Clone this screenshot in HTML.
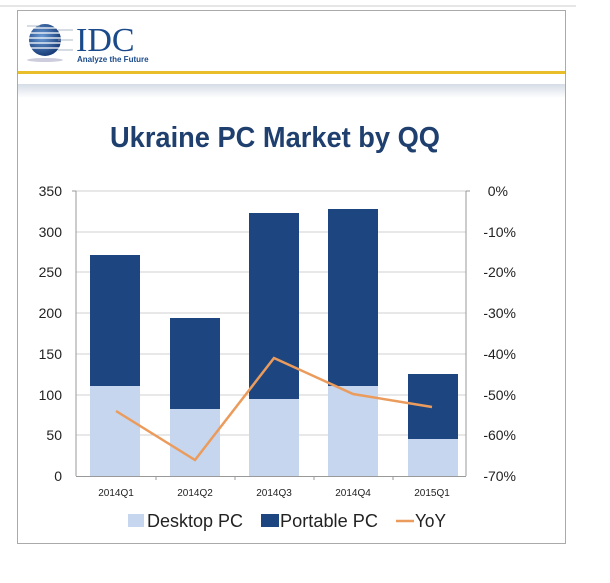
<!DOCTYPE html>
<html><head><style>
body{margin:0;background:#fff;width:610px;height:578px;overflow:hidden;font-family:"Liberation Sans",sans-serif}
</style></head><body>
<svg width="610" height="578" xmlns="http://www.w3.org/2000/svg">
<line x1="0" y1="6" x2="576" y2="6" stroke="#ccc" stroke-width="1"/>
<rect x="17.5" y="10.5" width="548" height="533" fill="#fff" stroke="#aaa"/>
<defs><linearGradient id="g" x1="0" y1="0" x2="0" y2="1"><stop offset="0" stop-color="#d6dde6"/><stop offset="1" stop-color="#fff"/></linearGradient>
<radialGradient id="b" cx="0.4" cy="0.4" r="0.6"><stop offset="0" stop-color="#6a9bd6"/><stop offset="1" stop-color="#1a3e7a"/></radialGradient></defs>
<rect x="18" y="84" width="547" height="14" fill="url(#g)"/>
<rect x="18" y="71" width="547" height="3" fill="#e8bf2a"/>
<circle cx="45" cy="40" r="16" fill="url(#b)"/>
<g stroke="#fff" stroke-width="1.2"><line x1="26" y1="28" x2="64" y2="28"/><line x1="26" y1="33" x2="64" y2="33"/><line x1="26" y1="38" x2="64" y2="38"/><line x1="26" y1="43" x2="64" y2="43"/><line x1="26" y1="48" x2="64" y2="48"/></g>
<g stroke="#9aa8bb" stroke-width="0.8"><line x1="27" y1="26" x2="40" y2="26"/><line x1="58" y1="30" x2="73" y2="30"/><line x1="58" y1="40" x2="73" y2="40"/><line x1="58" y1="50" x2="73" y2="50"/></g>
<ellipse cx="45" cy="60" rx="18" ry="2" fill="#ccd"/>
<text x="76" y="51" font-family="Liberation Serif,serif" font-size="34" fill="#1b4a8a">IDC</text>
<text x="77" y="62" font-size="8" font-weight="bold" fill="#1b4a8a">Analyze the Future</text>
<text x="110" y="147" textLength="330" lengthAdjust="spacingAndGlyphs" font-size="29" font-weight="bold" fill="#1f3f6e">Ukraine PC Market by QQ</text>
<g stroke="#d0d0d0" stroke-width="1">
<line x1="76" y1="191" x2="466" y2="191"/><line x1="76" y1="232" x2="466" y2="232"/><line x1="76" y1="272" x2="466" y2="272"/><line x1="76" y1="313" x2="466" y2="313"/><line x1="76" y1="354" x2="466" y2="354"/><line x1="76" y1="395" x2="466" y2="395"/><line x1="76" y1="435" x2="466" y2="435"/></g>
<g fill="#c5d6ee">
<rect x="90" y="386" width="50" height="90"/><rect x="170" y="409" width="50" height="67"/><rect x="249" y="399" width="50" height="77"/><rect x="328" y="386" width="50" height="90"/><rect x="408" y="439" width="50" height="37"/></g>
<g fill="#1d4680">
<rect x="90" y="255" width="50" height="131"/><rect x="170" y="318" width="50" height="91"/><rect x="249" y="213" width="50" height="186"/><rect x="328" y="209" width="50" height="177"/><rect x="408" y="374" width="50" height="65"/></g>
<g stroke="#999"><line x1="76" y1="191" x2="76" y2="476"/><line x1="466" y1="191" x2="466" y2="476"/><line x1="76" y1="476.5" x2="466" y2="476.5"/>
<line x1="156" y1="476" x2="156" y2="480"/><line x1="235" y1="476" x2="235" y2="480"/><line x1="314" y1="476" x2="314" y2="480"/><line x1="393" y1="476" x2="393" y2="480"/>
<line x1="72" y1="191" x2="76" y2="191"/><line x1="466" y1="191" x2="470" y2="191"/></g>
<polyline points="116,411 195,460 274,358 353,394 432,407" fill="none" stroke="#eb9c5c" stroke-width="2.5"/>
<g font-size="14" fill="#222" text-anchor="end">
<text x="62" y="196">350</text><text x="62" y="237">300</text><text x="62" y="277">250</text><text x="62" y="318">200</text><text x="62" y="359">150</text><text x="62" y="400">100</text><text x="62" y="440">50</text><text x="62" y="481">0</text></g>
<g font-size="14" fill="#222" text-anchor="end">
<text x="508" y="196">0%</text><text x="516" y="237">-10%</text><text x="516" y="277">-20%</text><text x="516" y="318">-30%</text><text x="516" y="359">-40%</text><text x="516" y="400">-50%</text><text x="516" y="440">-60%</text><text x="516" y="481">-70%</text></g>
<g font-size="10" fill="#222" text-anchor="middle">
<text x="116" y="496">2014Q1</text><text x="195" y="496">2014Q2</text><text x="274" y="496">2014Q3</text><text x="353" y="496">2014Q4</text><text x="432" y="496">2015Q1</text></g>
<rect x="128" y="514" width="16" height="13" fill="#c5d6ee"/>
<text x="147" y="527" font-size="18" fill="#222" textLength="96" lengthAdjust="spacingAndGlyphs">Desktop PC</text>
<rect x="261" y="514" width="18" height="13" fill="#1d4680"/>
<text x="280" y="527" font-size="18" fill="#222" textLength="98" lengthAdjust="spacingAndGlyphs">Portable PC</text>
<line x1="396" y1="521" x2="414" y2="521" stroke="#eb9c5c" stroke-width="2.5"/>
<text x="415" y="527" font-size="18" fill="#222" textLength="31" lengthAdjust="spacingAndGlyphs">YoY</text>
</svg>
</body></html>
